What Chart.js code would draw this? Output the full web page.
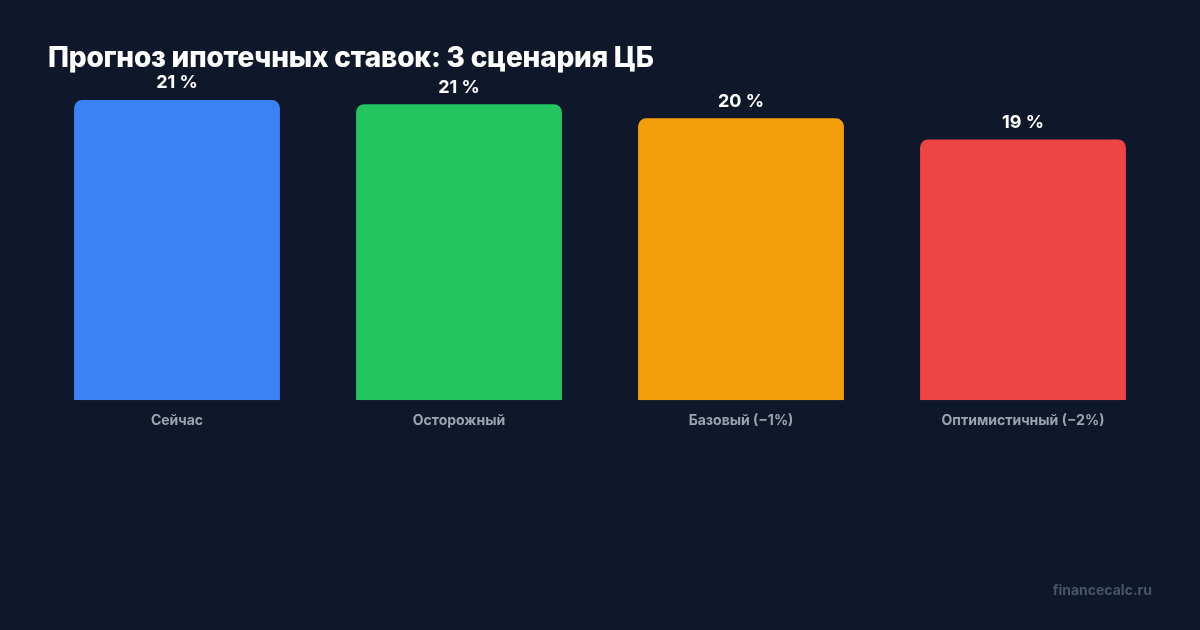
<!DOCTYPE html>
<html><head><meta charset="utf-8">
<script src="https://cdn.jsdelivr.net/npm/chart.js@4"></script>
<style>
body{margin:0;background:#0f172a;width:1200px;height:630px;overflow:hidden;font-family:Inter,sans-serif}
#wrap{position:relative;width:1200px;height:630px}
h1{position:absolute;left:48px;top:40px;margin:0;color:#fff;font-size:28px;font-weight:800;letter-spacing:-0.2px}
.wm{position:absolute;right:48px;top:581px;color:#475569;font-size:14px;font-weight:700}
canvas{position:absolute;left:0;top:0}
</style></head><body>
<div id="wrap">
<canvas id="c" width="1200" height="630"></canvas>
<h1>Прогноз ипотечных ставок: 3 сценария ЦБ</h1>
<div class="wm">financecalc.ru</div>
</div>
<script>
const categories = ['Сейчас', 'Осторожный', 'Базовый (−1%)', 'Оптимистичный (−2%)'];
const rates = [21.3, 21.0, 20.0, 18.5];
const colors = ['#3b82f6', '#22c55e', '#f59e0b', '#ef4444'];

const valueLabels = {
  id: 'valueLabels',
  afterDatasetsDraw(chart) {
    const ctx = chart.ctx;
    ctx.save();
    ctx.fillStyle = '#ffffff';
    ctx.font = '700 18px Inter';
    ctx.textAlign = 'center';
    ctx.textBaseline = 'bottom';
    chart.getDatasetMeta(0).data.forEach((bar, i) => {
      ctx.fillText(Math.round(rates[i]) + ' %', bar.x, bar.y - 8);
    });
    ctx.restore();
  }
};

new Chart(document.getElementById('c'), {
  type: 'bar',
  data: {
    labels: categories,
    datasets: [{ data: rates, backgroundColor: colors, borderRadius: 8, borderSkipped: 'bottom',
      barPercentage: 0.73, categoryPercentage: 1 }]
  },
  options: {
    responsive: false,
    animation: false,
    layout: { padding: { left: 36, right: 36, top: 62, bottom: 197 } },
    plugins: { legend: { display: false }, tooltip: { enabled: false } },
    scales: {
      y: { display: false, min: 0, max: 24 },
      x: {
        grid: { display: false }, border: { display: false },
        ticks: { color: '#9ca3af', font: { family: 'Inter', size: 14, weight: '700' }, padding: 4 }
      }
    }
  },
  plugins: [valueLabels]
});
</script>
</body></html>
